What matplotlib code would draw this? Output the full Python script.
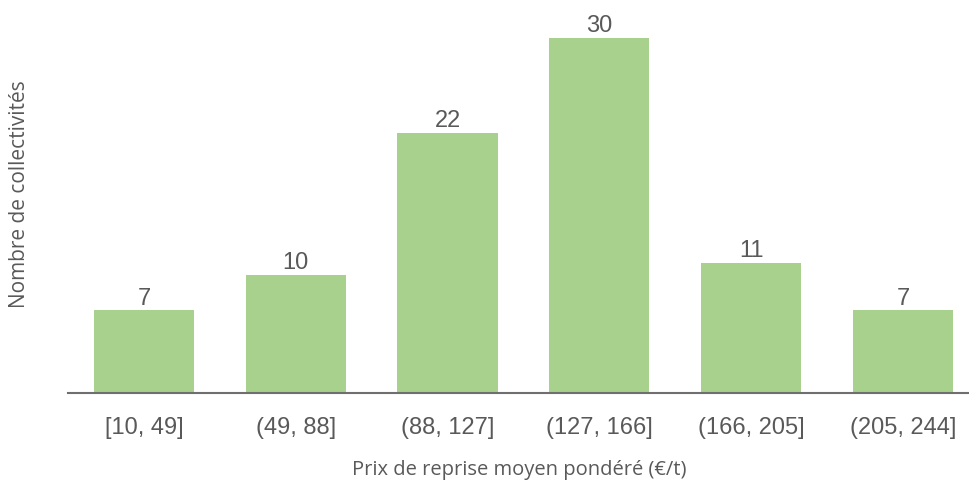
import matplotlib
matplotlib.use("Agg")
import matplotlib.pyplot as plt

categories = ["[10, 49]", "(49, 88]", "(88, 127]", "(127, 166]", "(166, 205]", "(205, 244]"]
counts = [7, 10, 22, 30, 11, 7]

GREEN = "#A9D18E"
GREY = "#595959"

fig = plt.figure(figsize=(9.70, 4.82), dpi=100)
ax = fig.add_axes([68 / 970, 89 / 482, 902 / 970, 393 / 482])

x = range(len(categories))
bars = ax.bar(x, counts, width=0.66, color=GREEN)
for b, v in zip(bars, counts):
    ax.text(b.get_x() + b.get_width() / 2, v + 0.05, str(v), ha="center", va="bottom",
            fontsize=17, color=GREY, family="Liberation Sans")

ax.set_xlim(-0.5, 5.442)
ax.set_ylim(0, 33.2)
ax.set_xticks(list(x))
ax.set_xticklabels(categories, fontsize=17, color=GREY, family="Liberation Sans")
ax.tick_params(axis="x", length=0, pad=17)
ax.set_yticks([])
for s in ["top", "right", "left"]:
    ax.spines[s].set_visible(False)
ax.spines["bottom"].set_color("#6f6f6f")
ax.spines["bottom"].set_linewidth(1.5)

fig.text(519 / 970, 1 - 470 / 482, "Prix de reprise moyen pondéré (€/t)", ha="center", va="center",
         fontsize=14.5, color=GREY, family="Open Sans")
fig.text(20 / 970, 1 - 194 / 482, "Nombre de collectivités", ha="center", va="center", rotation=90,
         fontsize=15, color=GREY, family="Open Sans")

fig.savefig("out.png", dpi=100)
